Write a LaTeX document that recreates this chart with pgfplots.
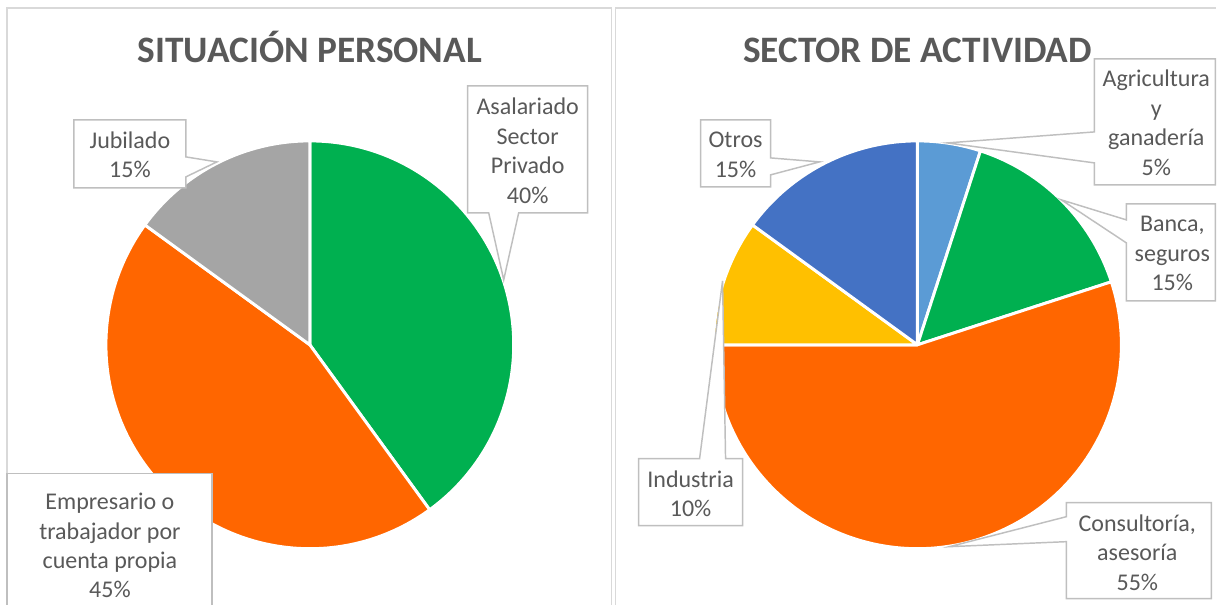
\documentclass[border=0pt]{standalone}
\usepackage{pgfplots}
\pgfplotsset{compat=1.18}
\usepackage{pgfplotstable}
\usepackage{fontspec}
\setmainfont{Carlito}

\definecolor{cgreen}{HTML}{00B050}
\definecolor{corange}{HTML}{FF6600}
\definecolor{cgray}{HTML}{A5A5A5}
\definecolor{clblue}{HTML}{5B9BD5}
\definecolor{cblue}{HTML}{4472C4}
\definecolor{cyellow}{HTML}{FFC000}
\definecolor{ctext}{HTML}{595959}
\definecolor{cbox}{HTML}{BFBFBF}
\definecolor{cframe}{HTML}{D9D9D9}

% situacion personal
\pgfplotstableread{
label pct
Asalariado 40
Empresario 45
Jubilado 15
}\personal

% sector de actividad
\pgfplotstableread{
label pct
Agricultura 5
Banca 15
Consultoria 55
Industria 10
Otros 15
}\sector

\tikzset{
  callout/.style={fill=white, draw=cbox, line width=1.1pt, line join=miter},
  lbl/.style={text=ctext, align=center, inner sep=0pt,
    font=\fontsize{18}{22.1}\selectfont},
  ttl/.style={text=ctext, anchor=base, inner sep=0pt,
    font=\fontsize{28}{33}\selectfont\bfseries},
}

\begin{document}
\begin{tikzpicture}
\begin{axis}[
  x=0.75pt, y=0.75pt, y dir=reverse,
  xmin=0, xmax=1217, ymin=0, ymax=605,
  hide axis, clip=false,
]
\path (axis cs:0,0) rectangle (axis cs:1217,605);

% panel frames
\draw[cframe, line width=1.1pt] (axis cs:7,605) -- (axis cs:7,8) -- (axis cs:612,8) -- (axis cs:612,605);
\draw[cframe, line width=1.1pt] (axis cs:616,605) -- (axis cs:616,8) -- (axis cs:1217,8);

% pies
\pgfplotsextra{%
  \xdef\acc{0}%
  \foreach \i/\c in {0/cgreen,1/corange,2/cgray}{%
    \pgfplotstablegetelem{\i}{pct}\of\personal
    \pgfmathsetmacro\a{90-3.6*\acc}%
    \pgfmathsetmacro\b{\a-3.6*\pgfplotsretval}%
    \filldraw[fill=\c, draw=white, line width=2.2pt, line join=round]
      (axis cs:310,345) -- ++(\a:153pt) arc[start angle=\a, end angle=\b, radius=153pt] -- cycle;
    \pgfmathsetmacro\n{\acc+\pgfplotsretval}\xdef\acc{\n}%
  }%
  \xdef\acc{0}%
  \foreach \i/\c in {0/clblue,1/cgreen,2/corange,3/cyellow,4/cblue}{%
    \pgfplotstablegetelem{\i}{pct}\of\sector
    \pgfmathsetmacro\a{90-3.6*\acc}%
    \pgfmathsetmacro\b{\a-3.6*\pgfplotsretval}%
    \filldraw[fill=\c, draw=white, line width=2.2pt, line join=round]
      (axis cs:918,345) -- ++(\a:153pt) arc[start angle=\a, end angle=\b, radius=153pt] -- cycle;
    \pgfmathsetmacro\n{\acc+\pgfplotsretval}\xdef\acc{\n}%
  }%
}

% titles
\node[ttl] at (axis cs:310,63) {SITUACIÓN PERSONAL};
\node[ttl] at (axis cs:918,63) {SECTOR DE ACTIVIDAD};

% callouts, left pie
\draw[callout] (axis cs:74,120) -- (axis cs:186,120) -- (axis cs:186,157) -- (axis cs:217,162)
  -- (axis cs:186,177) -- (axis cs:186,188) -- (axis cs:74,188) -- cycle;
\node[lbl] at (axis cs:130,155) {Jubilado\\15\%};

\draw[callout] (axis cs:468,86) -- (axis cs:588,86) -- (axis cs:588,213) -- (axis cs:519,213)
  -- (axis cs:504,280) -- (axis cs:489,213) -- (axis cs:468,213) -- cycle;
\node[lbl] at (axis cs:528,151) {Asalariado\\Sector\\Privado\\40\%};

\fill[white] (axis cs:7,474) rectangle (axis cs:212,605);
\draw[cbox, line width=1.1pt] (axis cs:7,605) -- (axis cs:7,474) -- (axis cs:212,474) -- (axis cs:212,605);
\node[lbl] at (axis cs:110,546) {Empresario o\\trabajador por\\cuenta propia\\45\%};

% callouts, right pie
\draw[callout] (axis cs:701,120) -- (axis cs:771,120) -- (axis cs:771,158) -- (axis cs:820,162)
  -- (axis cs:771,175) -- (axis cs:771,187) -- (axis cs:701,187) -- cycle;
\node[lbl] at (axis cs:736,155) {Otros\\15\%};

\draw[callout] (axis cs:1095,59) -- (axis cs:1216,59) -- (axis cs:1216,185) -- (axis cs:1095,185)
  -- (axis cs:1095,163) -- (axis cs:948,143) -- (axis cs:1095,132) -- cycle;
\node[lbl] at (axis cs:1157,123) {Agricultura\\y\\ganadería\\5\%};

\draw[callout] (axis cs:1127,204) -- (axis cs:1216,204) -- (axis cs:1216,301) -- (axis cs:1127,301)
  -- (axis cs:1127,243) -- (axis cs:1062,200) -- (axis cs:1127,220) -- cycle;
\node[lbl] at (axis cs:1173,254) {Banca,\\seguros\\15\%};

\draw[callout] (axis cs:639,459) -- (axis cs:700,459) -- (axis cs:723,281) -- (axis cs:726,459)
  -- (axis cs:743,459) -- (axis cs:743,526) -- (axis cs:639,526) -- cycle;
\node[lbl] at (axis cs:691,494) {Industria\\10\%};

\draw[callout] (axis cs:1067,503) -- (axis cs:1212,503) -- (axis cs:1212,599) -- (axis cs:1067,599)
  -- (axis cs:1067,542) -- (axis cs:950,547) -- (axis cs:1067,517) -- cycle;
\node[lbl] at (axis cs:1138,553) {Consultoría,\\asesoría\\55\%};
\end{axis}
\end{tikzpicture}
\end{document}
